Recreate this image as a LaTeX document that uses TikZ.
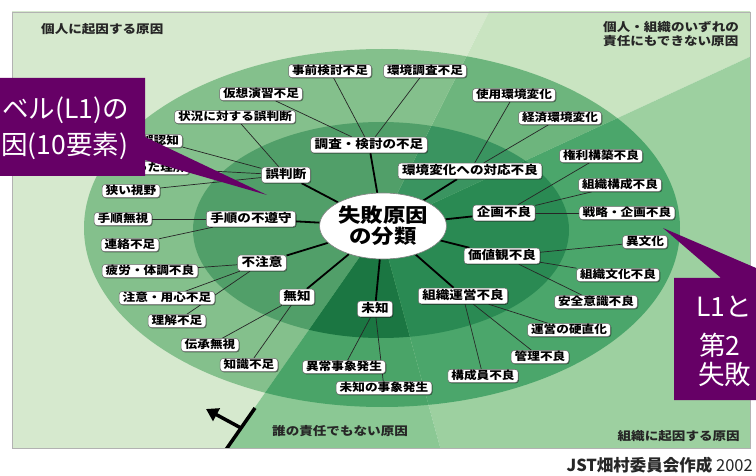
\documentclass[tikz,border=0pt]{standalone}
\usepackage{fontspec}
\newfontfamily\jp[FakeStretch=1.15]{Noto Sans CJK JP}
\newfontfamily\jpc{Noto Sans CJK JP}
\usetikzlibrary{shapes.geometric,shadows,arrows.meta}
\pgfdeclarelayer{bg}
\pgfdeclarelayer{lines}
\pgfdeclarelayer{top}
\pgfsetlayers{bg,lines,main,top}
\definecolor{bgL}{HTML}{D6E9CE}
\definecolor{ringL}{HTML}{84C08C}
\definecolor{inL}{HTML}{519F69}
\definecolor{bgU}{HTML}{C9E4C1}
\definecolor{ringU}{HTML}{6DB57D}
\definecolor{inU}{HTML}{3A9460}
\definecolor{bgR}{HTML}{9DD0A0}
\definecolor{ringR}{HTML}{4BA66B}
\definecolor{inR}{HTML}{2A8A53}
\definecolor{bgB}{HTML}{8BC894}
\definecolor{ringB}{HTML}{4AA468}
\definecolor{inB}{HTML}{1B7642}
\definecolor{purp}{HTML}{660066}
\tikzset{
 leafbox/.style={draw=black!60, line width=0.5pt, fill=white, rounded corners=3pt,
   inner xsep=3.5pt, inner ysep=0.8pt, text height=9pt, text depth=2.5pt,
   font=\jp\bfseries\fontsize{11}{12}\selectfont,
   drop shadow={shadow xshift=0.8pt, shadow yshift=-0.8pt, fill=black, opacity=0.45}},
 mainbox/.style={leafbox, inner xsep=4pt, inner ysep=1.2pt, text height=10.5pt, text depth=3pt,
   font=\jp\bfseries\fontsize{11.8}{13}\selectfont},
 centerbox/.style={ellipse, draw=black!50, line width=0.6pt, fill=white, minimum width=118pt,
   minimum height=66pt, inner sep=0pt, align=center,
   font=\jp\bfseries\fontsize{19.5}{21}\selectfont},
 leafline/.style={line width=0.7pt, black!85},
 mainline/.style={line width=1.8pt, black},
 region/.style={font=\jp\bfseries\fontsize{11.8}{14}\selectfont, text=black!85, inner sep=0pt},
 calltext/.style={font=\jpc\fontsize{26.5}{30}\selectfont, text=white, inner sep=0pt},
}
\newcommand{\sectorfill}[4]{%
 \begin{scope}
  \clip #1;
  \fill[#2] (0,0) rectangle (756,476);
  \fill[#3] (382,228) ellipse [x radius=298pt, y radius=179pt];
  \fill[#4] (381,230) ellipse [x radius=188pt, y radius=108pt];
 \end{scope}}
\begin{document}
\begin{tikzpicture}[x=1pt,y=-1pt]
\useasboundingbox (0,0) rectangle (756,476);
\begin{pgfonlayer}{bg}
\fill[white] (0,0) rectangle (756,476);
\begin{scope}
 \clip (12,12) rectangle (750,448);
 \sectorfill{(380,228) -- (495,0) -- (0,0) -- (0,476) -- (207,476) -- cycle}{bgL}{ringL}{inL}
 \sectorfill{(380,228) -- (495,0) -- (756,0) -- (756,54) -- cycle}{bgU}{ringU}{inU}
 \sectorfill{(380,228) -- (756,54) -- (756,476) -- (448,476) -- cycle}{bgR}{ringR}{inR}
 \sectorfill{(380,228) -- (448,476) -- (207,476) -- cycle}{bgB}{ringB}{inB}
 \draw[line width=3.5pt, black] (255,408) -- (225,451);
 \draw[line width=3.5pt, black, -{Triangle[length=12pt,width=14pt]}] (241,428) -- (206,409);
\end{scope}
\draw[black!30, line width=0.8pt] (12,12) rectangle (750,448);
\end{pgfonlayer}

% center
\node[centerbox] (c) at (383,226) {失敗原因\\の分類};

% level 1
\node[mainbox] (a1) at (369,145) {調査・検討の不足};
\node[mainbox] (a2) at (286,175) {誤判断};
\node[mainbox] (a3) at (251,219) {手順の不遵守};
\node[mainbox] (a4) at (262,263) {不注意};
\node[mainbox] (a5) at (297,297) {無知};
\node[mainbox] (a6) at (375,309) {未知};
\node[mainbox] (a7) at (463,296) {組織運営不良};
\node[mainbox] (a8) at (502,256) {価値観不良};
\node[mainbox] (a9) at (504,213) {企画不良};
\node[mainbox] (a10) at (470,171) {環境変化への対応不良};

% leaves
\node[leafbox] (b1) at (330,71) {事前検討不足};
\node[leafbox] (b2) at (425,71) {環境調査不足};
\node[leafbox] (b3) at (261,94) {仮想演習不足};
\node[leafbox] (b4) at (235,117) {状況に対する誤判断};
\node[leafbox] (b5) at (160,141) {誤認知};
\node[leafbox] (b6) at (154,168) {誤った理解};
\node[leafbox] (b7) at (131,191) {狭い視野};
\node[leafbox] (b8) at (123,219) {手順無視};
\node[leafbox] (b9) at (130,245) {連絡不足};
\node[leafbox] (b10) at (150,271) {疲労・体調不良};
\node[leafbox] (b11) at (167,298) {注意・用心不足};
\node[leafbox] (b12) at (177,321) {理解不足};
\node[leafbox] (b13) at (210,345) {伝承無視};
\node[leafbox] (b14) at (249,365) {知識不足};
\node[leafbox] (b15) at (344,367) {異常事象発生};
\node[leafbox] (b16) at (384,388) {未知の事象発生};
\node[leafbox] (b17) at (483,376) {構成員不良};
\node[leafbox] (b18) at (540,357) {管理不良};
\node[leafbox] (b19) at (569,330) {運営の硬直化};
\node[leafbox] (b20) at (596,302) {安全意識不良};
\node[leafbox] (b21) at (618,275) {組織文化不良};
\node[leafbox] (b22) at (645,242) {異文化};
\node[leafbox] (b23) at (627,213) {戦略・企画不良};
\node[leafbox] (b24) at (620,185) {組織構成不良};
\node[leafbox] (b25) at (601,156) {権利構築不良};
\node[leafbox] (b26) at (560,118) {経済環境変化};
\node[leafbox] (b27) at (514,95) {使用環境変化};

% region labels
\node[region, anchor=west] (r1) at (41,29) {個人に起因する原因};
\node[region, anchor=north west, align=left] (r2) at (603,21) {個人・組織のいずれの\\責任にもできない原因};
\node[region, anchor=east] (r3) at (740,436) {組織に起因する原因};
\node[region, anchor=west] (r4) at (272,431) {誰の責任でもない原因};

% connectors
\begin{pgfonlayer}{lines}
\foreach \i in {1,...,10} \draw[mainline] (c) -- (a\i);
\foreach \l/\m in {b1/a1,b2/a1,b3/a1,b4/a2,b5/a2,b6/a2,b7/a2,b8/a3,b9/a3,b10/a4,b11/a4,b12/a4,
  b13/a5,b14/a5,b15/a6,b16/a6,b17/a7,b18/a7,b19/a7,b20/a8,b21/a8,b22/a8,b23/a9,b24/a9,b25/a9,
  b26/a10,b27/a10}
  \draw[leafline] (\l) -- (\m);
\end{pgfonlayer}

% callouts
\begin{pgfonlayer}{top}
\fill[purp] (0,78) -- (145,78) -- (145,137) -- (267,195) -- (145,160) -- (145,176) -- (0,176) -- cycle;
\node[calltext, anchor=west] (t1) at (2,110) {ベル(L1)の};
\node[calltext, anchor=west] (t2) at (1,146) {因(10要素)};
\fill[purp] (663,228) -- (756,268) -- (756,400) -- (674,400) -- (674,278) -- (721,278) -- cycle;
\node[calltext, anchor=west] (t3) at (696,307) {L1と};
\node[calltext, anchor=west] (t4) at (699,345) {第2};
\node[calltext, anchor=west] (t5) at (698,374) {失敗};
\node[anchor=east, inner sep=0pt, text=black!85, font=\jpc\fontsize{16.5}{18}\selectfont] (cp) at (753,465) {\textbf{JST畑村委員会作成} 2002};
\end{pgfonlayer}
\end{tikzpicture}
\end{document}
